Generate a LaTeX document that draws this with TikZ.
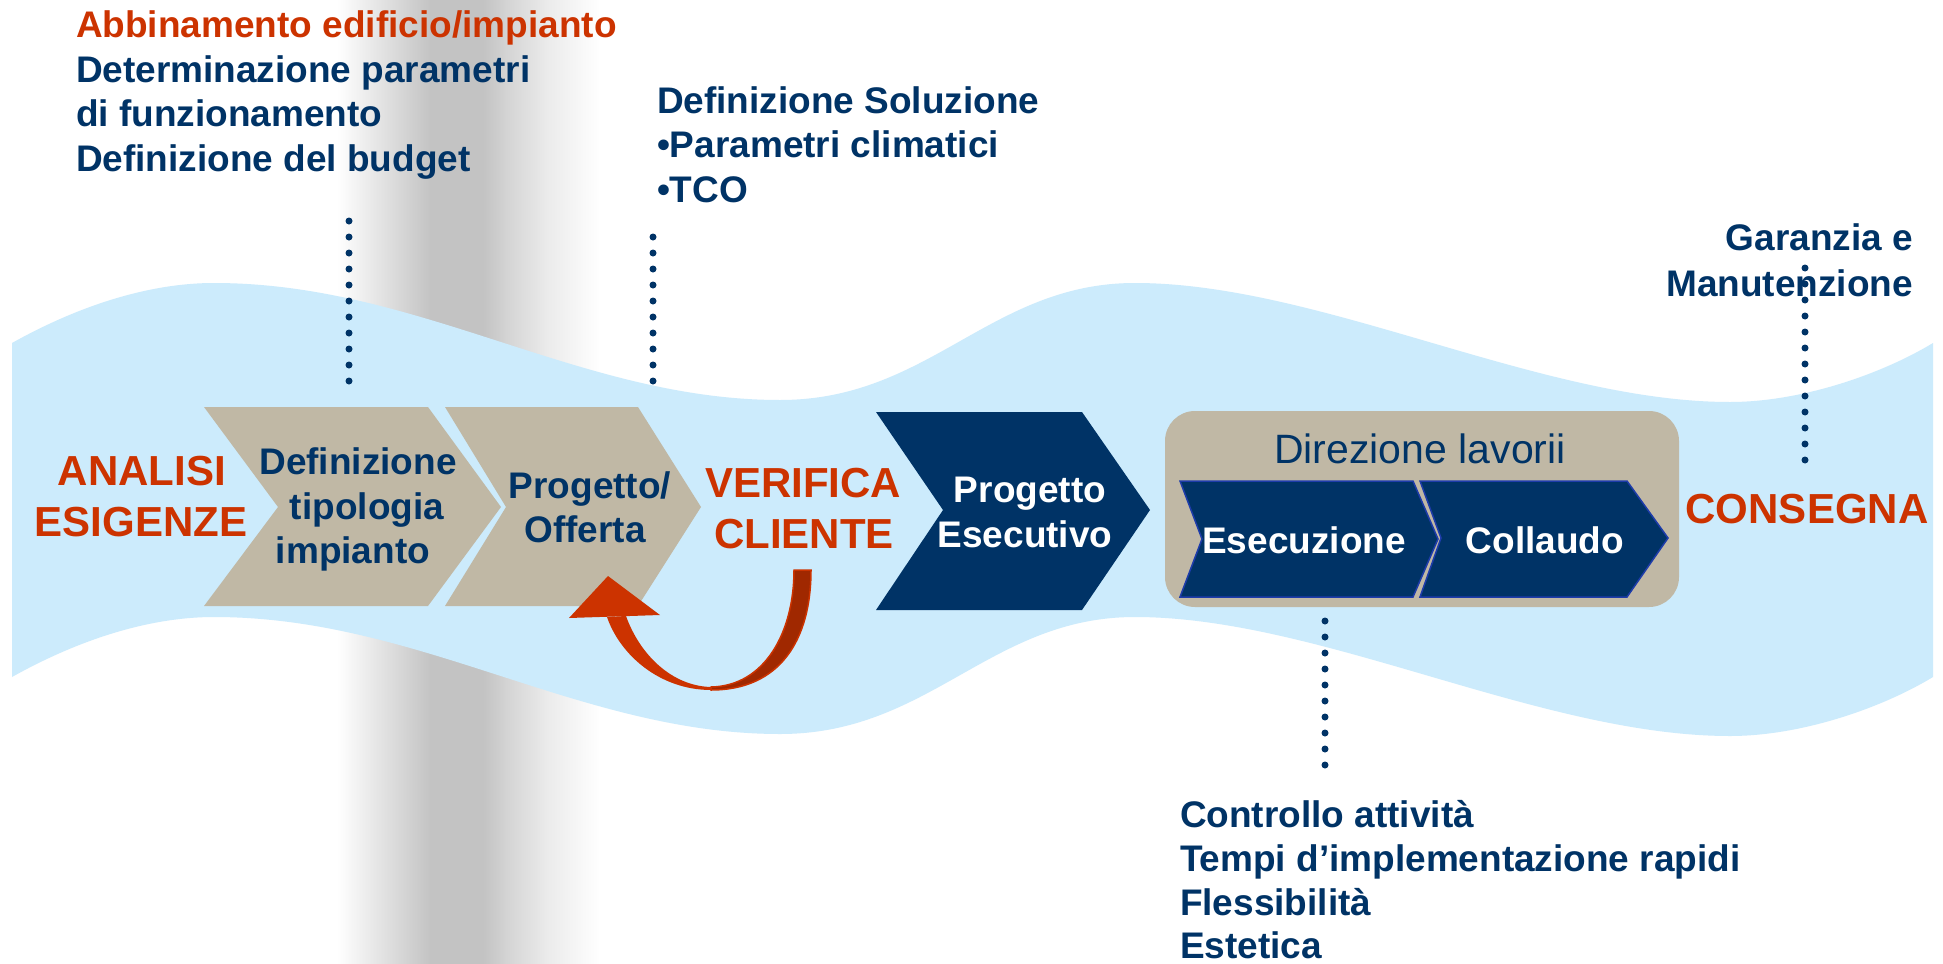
\documentclass[tikz,border=0pt]{standalone}
\usepackage{fontspec}
\setmainfont{Liberation Sans}
\definecolor{navyc}{RGB}{0,51,102}
\definecolor{orngc}{RGB}{204,51,0}
\definecolor{tanfill}{RGB}{192,184,165}
\definecolor{wavec}{RGB}{204,235,252}
\definecolor{dredc}{RGB}{160,40,0}
\definecolor{chevline}{RGB}{30,60,170}
\definecolor{gB}{RGB}{195,195,195}
\definecolor{gC}{RGB}{211,211,211}
\definecolor{gD}{RGB}{234,234,234}
\tikzset{
  lbl/.style={inner sep=0pt, outer sep=0pt, text=navyc, font=\bfseries\fontsize{37bp}{45bp}\selectfont},
  biglbl/.style={inner sep=0pt, outer sep=0pt, text=orngc, font=\bfseries\fontsize{42bp}{51bp}\selectfont},
  wlbl/.style={inner sep=0pt, outer sep=0pt, text=white, font=\bfseries\fontsize{37bp}{45bp}\selectfont},
  reglbl/.style={inner sep=0pt, outer sep=0pt, text=navyc, font=\fontsize{41bp}{49bp}\selectfont},
  dotline/.style={draw=navyc, line width=7bp, line cap=round, dash pattern=on 0pt off 16bp},
  chevtan/.style={fill=tanfill},
  chevnavy/.style={fill=navyc},
  chevinner/.style={fill=navyc, draw=chevline, line width=1.5bp, line join=miter}
}
\begin{document}
\begin{tikzpicture}[x=1bp, y=-1bp]
\useasboundingbox (0,0) rectangle (1943,964);
\fill[white] (0,0) rectangle (1943,964);
% gray band
\shade[left color=white, right color=gB] (337,0) rectangle (431,964);
\fill[gB] (430,0) rectangle (484,964);
\shade[left color=gB, right color=gC] (483,0) rectangle (506,964);
\shade[left color=gC, right color=gD] (505,0) rectangle (546,964);
\shade[left color=gD, right color=white] (545,0) rectangle (600,964);
% wave
\fill[wavec] (12,343) .. controls (80,305) and (150,283) .. (214,283)
  .. controls (420,283) and (580,400) .. (780,400)
  .. controls (930,400) and (990,283) .. (1135,283)
  .. controls (1320,283) and (1540,402) .. (1730,402)
  .. controls (1800,402) and (1880,375) .. (1933,343)
  -- (1933,677) .. controls (1880,709) and (1800,736) .. (1730,736)
  .. controls (1540,736) and (1320,617) .. (1135,617)
  .. controls (990,617) and (930,734) .. (780,734)
  .. controls (580,734) and (420,617) .. (214,617)
  .. controls (150,617) and (80,639) .. (12,677) -- cycle;
% chevrons
\fill[chevtan] (204,407) -- (428,407) -- (501,507) -- (428,606) -- (204,606) -- (278,507) -- cycle;
\fill[chevtan] (445,407) -- (638,407) -- (701,507) -- (638,606) -- (445,606) -- (506,507) -- cycle;
\fill[chevnavy] (876,412) -- (1082,412) -- (1150,510) -- (1082,610) -- (876,610) -- (943,510) -- cycle;
\fill[tanfill, rounded corners=30bp] (1165,411) rectangle (1679,607);
\path[chevinner] (1180,481) -- (1413,481) -- (1438,539) -- (1413,597) -- (1180,597) -- (1202,539) -- cycle;
\path[chevinner] (1420,481) -- (1627,481) -- (1668,538) -- (1627,597) -- (1420,597) -- (1441,538) -- cycle;
% curved arrow
\fill[dredc, draw=orngc, line width=1.5bp] (711,690) .. controls (780,690) and (811,640) .. (811,570)
  -- (794,570) .. controls (794,632) and (765,686) .. (711,687) -- cycle;
\fill[orngc] (607,617) .. controls (620,655) and (660,690) .. (711,690)
  -- (711,687) .. controls (672,686) and (640,655) .. (626,616) -- cycle;
\fill[orngc] (608,576) -- (569,618) -- (660,615) -- cycle;
% texts
\node[lbl, text=orngc, anchor=base west] (ab1) at (76,37) {Abbinamento edificio/impianto};
\node[lbl, anchor=base west] (ab2) at (76,82) {Determinazione parametri};
\node[lbl, anchor=base west] (ab3) at (76,126) {di funzionamento};
\node[lbl, anchor=base west] (ab4) at (76,171) {Definizione del budget};
\node[lbl, anchor=base west] (ds1) at (657,113) {Definizione Soluzione};
\node[lbl, anchor=base west] (ds2) at (657,157) {•Parametri climatici};
\node[lbl, anchor=base west] (ds3) at (657,202) {•TCO};
\node[lbl, anchor=base east] (gm1) at (1913,250) {Garanzia e};
\node[lbl, anchor=base east] (gm2) at (1913,296) {Manutenzione};
\node[lbl, anchor=base west] (ca1) at (1180,827) {Controllo attività};
\node[lbl, anchor=base west] (ca2) at (1180,871) {Tempi d’implementazione rapidi};
\node[lbl, anchor=base west] (ca3) at (1180,915) {Flessibilità};
\node[lbl, anchor=base west] (ca4) at (1180,958) {Estetica};
\node[biglbl, anchor=base] (an1) at (142,485) {ANALISI};
\node[biglbl, anchor=base] (an2) at (141,536) {ESIGENZE};
\node[biglbl, anchor=base] (vc1) at (803,497) {VERIFICA};
\node[biglbl, anchor=base] (vc2) at (804,548) {CLIENTE};
\node[biglbl, anchor=base] (cons) at (1807,523) {CONSEGNA};
\node[lbl, anchor=base] (c1a) at (358,474) {Definizione};
\node[lbl, anchor=base] (c1b) at (367,519) {tipologia};
\node[lbl, anchor=base] (c1c) at (353,563) {impianto};
\node[lbl, anchor=base] (c2a) at (590,498) {Progetto/};
\node[lbl, anchor=base] (c2b) at (585,542) {Offerta};
\node[wlbl, anchor=base] (c3a) at (1030,502) {Progetto};
\node[wlbl, anchor=base] (c3b) at (1025,547) {Esecutivo};
\node[reglbl, anchor=base] (dl) at (1420,463) {Direzione lavorii};
\node[wlbl, anchor=base] (ex) at (1304,553) {Esecuzione};
\node[wlbl, anchor=base] (co) at (1545,553) {Collaudo};
% dotted connectors
\coordinate (d1a) at (349,221);
\coordinate (d1b) at (349,381.5);
\coordinate (d2a) at (653,237);
\coordinate (d2b) at (653,381.5);
\coordinate (d3a) at (1805,268);
\coordinate (d3b) at (1805,460.5);
\coordinate (d4a) at (1325,621);
\coordinate (d4b) at (1325,765.5);
\draw[dotline] (d1a) -- (d1b);
\draw[dotline] (d2a) -- (d2b);
\draw[dotline] (d3a) -- (d3b);
\draw[dotline] (d4a) -- (d4b);
\end{tikzpicture}
\end{document}
